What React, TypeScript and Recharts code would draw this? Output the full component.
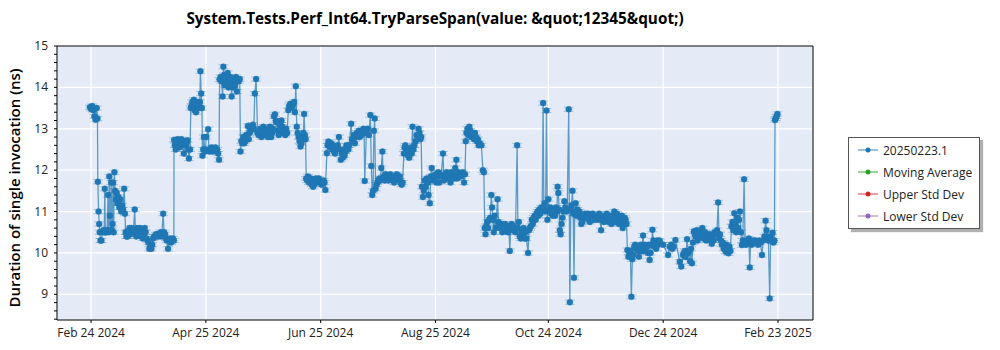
import React from 'react';
import {
  LineChart, Line, XAxis, YAxis, CartesianGrid, Legend, ReferenceLine, ErrorBar
} from 'recharts';

// x = days since Feb 24 2024, y = duration in ns
const febMar: [number, number][] = [
  [-0.6, 13.52], [0, 13.48], [0.6, 13.55], [1.2, 13.45], [1.8, 13.3], [2.4, 13.22], [3, 13.5], [3.4, 13.25],
  [3.6, 11.72], [4, 11.0], [4.3, 10.7], [4.6, 10.5], [5, 10.3], [5.5, 10.3], [6, 10.5], [6.5, 10.55],
  [7, 10.5], [7.3, 11.55], [7.6, 10.5], [8, 10.5], [8.5, 10.55], [9, 11.4], [9.3, 10.5], [9.7, 11.85],
  [10, 10.9], [10.3, 10.55], [10.7, 11.7], [11, 10.55], [11.4, 10.7], [11.7, 11.7], [12, 10.5], [12.4, 11.95],
  [12.8, 11.5], [13.2, 11.3], [13.6, 11.45], [14, 11.2], [14.5, 11.35], [15, 11.1], [15.5, 11.3], [16, 11.0],
  [16.5, 11.15], [17, 11.05], [17.6, 11.55], [18, 10.95], [18.4, 10.5], [18.8, 10.4], [19, 10.5], [19.5, 10.4],
  [20, 10.55], [20.5, 10.6], [21, 10.45], [21.5, 10.6], [22, 10.5], [22.5, 10.55], [23.2, 11.05], [23.6, 10.5],
  [24, 10.4], [24.5, 10.6], [25, 10.45], [25.5, 10.55], [26, 10.6], [26.5, 10.4], [27, 10.5], [27.5, 10.35],
  [28, 10.45], [28.5, 10.6], [29, 10.5], [29.5, 10.35], [30, 10.3], [30.5, 10.25], [31, 10.1], [31.5, 10.15],
  [32, 10.1], [32.5, 10.2], [33, 10.35], [33.5, 10.4], [34, 10.4], [34.5, 10.45], [35, 10.4], [35.5, 10.45],
  [36, 10.4], [36.5, 10.45], [37, 10.5], [37.5, 10.4], [38.3, 10.95], [38.8, 10.5], [39.3, 10.45], [39.8, 10.35],
  [40.2, 10.3], [40.9, 10.1], [41.5, 10.3], [42, 10.35], [42.5, 10.25], [43, 10.3], [43.5, 10.35], [44, 10.3],
];

const aprMay: [number, number][] = [
  [44.1, 12.73], [44.5, 12.6], [45, 12.5], [45.5, 12.65], [46, 12.75], [46.5, 12.7], [47, 12.55], [47.5, 12.65],
  [48, 12.75], [48.5, 12.6], [49.3, 12.4], [49.8, 12.6], [50.3, 12.7], [50.8, 12.65], [51.2, 12.72], [51.6, 12.5],
  [52, 12.28], [52.6, 12.5], [53, 13.5], [53.4, 13.55], [53.8, 13.65], [54.2, 13.6], [54.6, 13.7], [55, 13.45],
  [55.4, 13.6], [55.8, 13.4], [56.2, 13.65], [56.6, 13.55], [57, 13.6], [57.4, 13.5], [57.8, 13.65], [58.1, 14.39],
  [58.5, 13.85], [58.9, 13.5], [59.2, 12.35], [59.6, 12.5], [60, 12.8], [60.4, 12.45], [60.8, 12.5], [61.2, 12.8],
  [62.2, 12.99], [62.6, 12.5], [63, 12.45], [63.5, 12.5], [64, 12.55], [64.5, 12.45], [65, 12.5], [65.5, 12.5],
  [66, 12.55], [66.5, 12.45], [67, 12.5], [67.5, 12.4], [68, 12.25],
  [68.3, 14.19], [68.8, 14.25], [69.3, 14.15], [69.9, 13.78], [70.3, 14.5], [70.7, 14.3], [71.1, 14.05], [71.5, 14.2],
  [72, 14.1], [72.6, 14.35], [73, 14.0], [73.5, 14.1], [74, 14.25], [74.7, 13.78], [75.1, 14.15], [75.5, 14.0],
  [76, 14.2], [76.5, 14.05], [77, 14.25], [77.5, 13.9], [78, 14.2], [78.5, 14.15], [79, 14.2],
];

const mayJun: [number, number][] = [
  [79.4, 12.45], [79.9, 12.7], [80.4, 12.65], [80.9, 12.8], [81.4, 12.65], [81.9, 12.7], [82.4, 12.85], [83.3, 13.07],
  [83.8, 12.75], [84.3, 12.9], [84.8, 12.95], [85.3, 13.05], [86, 13.1], [86.5, 13.0], [87, 13.85], [87.7, 14.2],
  [88.5, 12.9], [89, 12.85], [89.5, 12.95], [90, 13.0], [90.5, 12.8], [91, 12.9], [91.5, 13.05], [92, 12.95],
  [92.5, 12.85], [93, 13.0], [93.5, 12.9], [94, 12.8], [94.5, 12.95], [95, 13.05], [95.7, 12.8], [96.2, 12.9],
  [96.7, 13.0], [97.2, 13.3], [97.7, 13.35], [98.2, 13.2], [98.7, 13.15], [99.2, 12.95], [99.7, 12.85], [100.2, 13.0],
  [100.7, 13.1], [101.2, 13.2], [101.7, 13.05], [102.2, 12.9], [102.7, 12.95], [103.2, 12.85], [103.7, 13.0], [104.2, 12.9],
  [104.8, 13.45], [105.3, 13.55], [105.8, 13.6], [106.3, 13.5], [106.8, 13.55], [107.3, 13.6], [107.8, 13.65], [108.3, 13.4],
  [108.8, 14.03], [109.3, 13.05], [109.8, 12.9], [110.3, 12.8], [110.8, 12.7], [111.3, 12.57], [111.8, 12.65], [112.3, 12.8],
  [112.8, 12.9], [113.2, 13.36], [113.6, 12.85], [114, 12.75],
  [114.3, 11.8], [114.8, 11.75], [115.3, 11.85], [115.8, 11.7], [116.3, 11.75], [116.8, 11.8], [117.3, 11.65], [118, 11.6],
  [118.5, 11.65], [119, 11.75], [119.5, 11.8], [120, 11.7], [120.5, 11.75], [121, 11.8], [121.5, 11.7], [122, 11.75],
  [122.5, 11.65], [123, 11.7], [123.5, 11.75], [124, 11.7], [124.5, 11.52],
];

const julAug: [number, number][] = [
  [125.3, 12.41], [125.7, 12.6], [126.1, 12.69], [126.6, 12.6], [127.1, 12.55], [127.6, 12.65], [128.1, 12.5], [128.6, 12.6],
  [129.1, 12.45], [129.6, 12.4], [130.1, 12.55], [130.6, 12.5], [131.1, 12.6], [131.7, 12.8], [132.2, 12.5], [132.7, 12.25],
  [133.2, 12.4], [133.7, 12.3], [134.2, 12.5], [134.7, 12.35], [135.2, 12.45], [135.7, 12.6], [136.2, 12.55], [136.7, 12.5],
  [137.2, 12.6], [138.2, 13.12], [138.7, 12.75], [139.2, 12.7], [139.7, 12.85], [140.2, 12.65], [140.7, 12.8], [141.2, 12.9],
  [141.7, 12.85], [142.2, 12.95], [142.7, 12.8], [143.2, 12.9], [143.7, 12.85], [144.2, 12.95], [144.7, 13.0], [145.1, 12.9],
  [145.4, 11.74], [146.3, 12.9], [147, 13.0], [147.6, 12.85], [148.4, 13.33], [148.9, 12.1], [149.4, 11.4], [149.8, 11.5],
  [150.3, 12.95], [150.7, 13.25],
  [151.2, 11.55], [151.7, 11.65], [152.2, 11.7], [152.7, 11.75], [153.2, 11.8], [153.7, 11.75], [154.2, 12.05], [154.8, 12.45],
  [155.2, 11.8], [155.5, 11.85], [156, 11.75], [156.5, 11.9], [157, 11.85], [157.5, 11.8], [158, 11.75], [158.5, 11.85],
  [159, 11.9], [159.5, 11.8], [160, 11.85], [160.5, 11.75], [161, 11.7], [161.5, 11.8], [162, 11.85], [162.5, 11.9],
  [163, 11.8], [163.5, 11.75], [164, 11.85], [164.5, 11.7], [165, 11.65], [165.5, 11.7],
  [166.2, 12.4], [166.6, 12.55], [167, 12.6], [167.5, 12.45], [168, 12.5], [168.5, 12.35], [169, 12.3], [169.5, 12.45],
  [170, 12.55], [170.4, 12.4], [170.8, 13.05], [171.3, 12.5], [171.8, 12.6], [172.5, 12.7], [173, 12.85], [173.5, 12.8],
  [174, 13.0], [174.5, 12.9], [175, 12.75], [175.4, 12.8],
  [175.8, 11.6], [176.3, 11.35], [176.8, 11.5], [177.3, 11.75], [177.8, 11.6], [178.3, 11.8], [178.8, 11.7], [179.3, 11.4],
  [180, 11.2], [180.5, 11.85], [181, 12.05], [181.5, 11.75], [182, 11.8],
];

const augSep: [number, number][] = [
  [182.5, 11.85], [183, 11.9], [183.5, 11.7], [184, 11.85], [184.5, 11.95], [185, 11.7], [185.5, 11.9], [186, 11.85],
  [187, 12.4], [187.5, 11.75], [188, 11.9], [188.5, 11.85], [189, 11.95], [189.5, 11.8], [190, 11.9], [190.5, 11.85],
  [191, 11.7], [191.5, 11.95], [192, 11.9], [192.5, 11.85], [193, 11.8], [193.5, 12.05], [194.1, 12.25], [194.5, 11.8],
  [195, 11.95], [195.5, 11.85], [196, 11.9], [196.5, 11.85], [197, 11.9], [197.5, 11.95], [198.2, 11.7], [198.7, 11.9],
  [199.1, 12.7], [199.5, 12.9], [200, 13.0], [200.5, 12.85], [201, 13.05], [201.5, 12.95], [202, 12.8], [202.5, 12.9],
  [203, 12.85], [203.5, 12.75], [204, 12.9], [204.5, 12.8], [205, 12.7], [205.5, 12.75], [206, 12.6], [206.5, 12.65],
  [207.4, 12.6], [208.2, 12.0], [208.7, 11.95],
  [209.2, 10.6], [209.6, 10.45], [210, 10.65], [210.5, 10.75], [211, 10.6], [211.5, 10.8], [212.1, 10.85], [212.7, 11.4],
  [213.1, 11.1], [213.5, 10.8], [214, 10.5], [214.5, 10.9], [215, 10.6], [216, 11.3], [216.5, 10.75], [217, 10.65],
  [217.5, 10.6], [218, 10.7], [218.5, 10.5], [219, 10.65], [219.5, 10.6], [220, 10.7], [220.5, 10.55], [221, 10.6],
  [221.5, 10.5], [222, 10.65], [222.5, 10.05], [223, 10.6], [223.5, 10.7], [224, 10.55], [224.5, 10.65], [225, 10.6],
  [225.5, 10.5], [226.4, 12.6], [226.8, 10.6], [227.3, 10.75], [227.8, 10.4], [228.3, 10.35], [228.8, 10.5], [229.3, 10.45],
  [229.8, 10.6], [230.3, 10.35], [230.8, 10.5], [231.3, 10.35], [232.2, 10.0], [232.7, 10.55], [233.2, 10.6], [233.7, 10.65],
  [234.2, 10.8], [234.7, 10.7], [235.2, 10.85], [235.7, 10.9], [236.2, 10.8], [236.7, 10.95], [237.2, 11.0], [237.7, 10.9],
  [238.2, 11.05], [238.7, 10.95], [239.2, 11.1], [239.7, 11.05],
];

const octNov: [number, number][] = [
  [240.2, 13.62], [240.6, 11.1], [241, 11.2], [241.5, 11.0], [242, 13.44], [242.5, 10.8], [243, 11.3], [243.5, 11.05],
  [244, 11.1], [244.5, 10.95], [245, 11.05], [245.5, 10.9], [246, 11.0], [246.5, 10.9], [247, 11.1], [247.5, 11.0],
  [247.9, 11.6], [248.3, 11.45], [248.7, 11.05], [249.1, 10.55], [249.5, 10.45], [250, 10.7], [250.5, 10.85], [251, 11.0],
  [251.5, 11.25], [252, 11.1], [252.5, 11.0], [253, 11.05], [253.8, 13.47], [254.4, 8.81], [254.9, 11.05], [255.3, 11.15],
  [255.8, 11.5], [256.2, 10.95], [256.6, 9.4], [257, 11.0], [257.5, 11.2], [258, 10.9], [258.5, 11.05], [259, 10.95],
  [259.5, 11.0], [260, 10.85], [260.5, 10.7], [261, 10.75], [261.5, 10.85], [262, 10.9], [262.5, 10.95], [263, 10.85],
  [263.5, 10.9], [264, 10.95], [264.5, 10.8], [265, 10.75], [265.5, 10.9], [266, 10.85], [266.5, 10.95], [267, 10.8],
  [267.5, 10.9], [268, 10.85], [268.5, 10.8], [269, 10.9], [269.5, 10.85], [270, 10.95], [270.5, 10.8], [271, 10.55],
  [271.5, 10.9], [272, 10.85], [272.5, 10.75], [273, 10.9], [273.5, 10.85], [274, 10.95], [274.5, 10.85], [275, 10.75],
  [275.5, 10.8], [276, 10.9], [276.5, 10.7], [277, 10.85], [277.5, 10.9], [278, 11.0], [278.5, 10.75], [279, 10.85],
  [279.5, 10.95], [280, 10.8], [280.5, 10.7], [281, 10.85], [281.5, 10.75], [282, 10.9], [282.5, 10.6], [283, 10.75],
  [283.5, 10.85], [284, 10.8], [284.5, 10.7],
  [285, 10.07], [285.5, 9.91], [286, 10.0], [286.5, 10.05], [287.1, 8.94], [287.6, 9.85], [288.1, 9.95], [288.6, 10.15],
  [289.1, 10.2], [289.6, 10.1], [290.1, 10.15], [290.6, 10.05], [291.1, 9.91], [291.6, 10.1], [292.1, 10.2], [292.6, 10.05],
  [293.3, 10.42], [293.8, 10.05], [294.3, 10.2], [294.8, 10.1], [295.3, 10.15], [295.8, 10.0], [296.3, 10.2], [296.8, 9.83],
  [297.3, 10.0], [297.8, 10.2], [298.3, 10.56], [298.8, 10.3], [299.3, 10.15], [299.8, 10.25], [300.3, 10.1], [300.8, 10.3],
  [301.3, 10.2], [302, 10.3],
];

const decFeb: [number, number][] = [
  [302.2, 10.27], [304, 10.2], [306.6, 9.95], [307.5, 10.15], [308.2, 10.2], [308.8, 10.1], [309.5, 10.15], [310.5, 10.31],
  [312.8, 9.79], [313.6, 9.67], [314.5, 9.95], [315, 10.0], [315.5, 10.05], [316, 9.9], [316.7, 10.33], [317.2, 10.0],
  [317.8, 10.05], [318.3, 9.8], [318.8, 10.1], [319.3, 9.75], [319.8, 10.25], [320.3, 10.52], [320.8, 10.45], [321.3, 10.4],
  [321.8, 10.55], [322.3, 10.3], [322.8, 10.5], [323.3, 10.45], [323.8, 10.4], [324.3, 10.55], [324.8, 10.6], [325.3, 10.35],
  [325.8, 10.45], [326.3, 10.5], [326.8, 10.3], [327.3, 10.45], [327.8, 10.4], [328.3, 10.35], [328.8, 10.45], [329.3, 10.3],
  [329.8, 10.22], [330.3, 10.4], [330.8, 10.3], [331.3, 10.5], [332, 10.45], [332.6, 10.55], [333.2, 11.22], [333.7, 10.35],
  [334.2, 10.45], [334.7, 10.3], [335.2, 10.2], [335.7, 10.25], [336.2, 10.1], [336.7, 10.15], [337.2, 10.03], [337.7, 10.2],
  [338.2, 10.1], [338.7, 9.99], [339.2, 10.15], [339.7, 10.05], [340.3, 10.64], [340.8, 10.75], [341.3, 10.55], [341.8, 10.96],
  [342.3, 10.7], [342.8, 10.5], [343.3, 10.85], [343.8, 10.6], [344.3, 10.8], [344.8, 11.0], [345.3, 10.5], [345.8, 10.19],
  [346.3, 10.3], [347, 11.78], [347.5, 10.25], [348, 10.2], [348.5, 10.3], [349, 10.25], [349.5, 10.35], [350, 9.65],
  [350.5, 10.3], [351, 10.2], [351.5, 10.25], [352, 10.3], [352.5, 10.25], [353, 10.3], [354.4, 10.2], [355, 10.3],
  [355.6, 10.25], [356.5, 9.95], [357.2, 10.3], [357.8, 10.4], [358.4, 10.78], [358.9, 10.55], [359.4, 10.4], [359.9, 10.3],
  [360.6, 8.9], [361.1, 10.4], [361.6, 10.3], [362.1, 10.49], [362.6, 10.25], [363.1, 10.3], [363.4, 13.21], [363.8, 13.25],
  [364.2, 13.3], [364.7, 13.36],
];

const typicalError = 0.05;

const xTickDays = [0, 61, 122, 183, 243, 304, 365];
const xTickLabels = ['Feb 24 2024', 'Apr 25 2024', 'Jun 25 2024', 'Aug 25 2024', 'Oct 24 2024', 'Dec 24 2024', 'Feb 23 2025'];
const xDomain = [-18.1, 383.6];

const yMajorTicks = [9, 10, 11, 12, 13, 14, 15];
const yDomain = [8.38, 15];
const yMinorTicks = Array.from({ length: 34 }, (_, i) => +(8.4 + i * 0.2).toFixed(1));

const legendEntries = [
  { name: '20250223.1', color: '#1f77b4' },
  { name: 'Moving Average', color: '#2ca02c' },
  { name: 'Upper Std Dev', color: '#d62728' },
  { name: 'Lower Std Dev', color: '#9467bd' },
];

const chartTitle = 'System.Tests.Perf_Int64.TryParseSpan(value: &quot;12345&quot;)';
const yLabel = 'Duration of single invocation (ns)';

const FONT = '"Segoe UI", "Open Sans", sans-serif';
const BLUE = '#1f77b4';

const data = [...febMar, ...aprMay, ...mayJun, ...julAug, ...augSep, ...octNov, ...decFeb]
  .map(([day, ns]) => ({ day, ns, err: typicalError }));

const YTick = ({ x, y, payload }: any) => {
  const v = payload.value;
  if (Math.abs(v - Math.round(v)) > 1e-6) return <g />;
  return (
    <text x={x} y={y} dy={4} textAnchor="end" fill="#222" fontSize={12} fontFamily={FONT}>{Math.round(v)}</text>
  );
};

const LegendBox = () => (
  <div style={{
    background: '#fff', border: '1px solid #555', boxShadow: '3px 3px 1px #b0b0b0',
    padding: '1px 10px 1px 9px', width: 111, fontFamily: FONT, fontSize: 12, color: '#222'
  }}>
    {legendEntries.map(e => (
      <div key={e.name} style={{ display: 'flex', alignItems: 'center', height: 22 }}>
        <svg width={20} height={10} style={{ flexShrink: 0 }}>
          <line x1={0} y1={5} x2={20} y2={5} stroke={e.color} strokeOpacity={0.6} strokeWidth={1.5} />
          <circle cx={10} cy={5} r={2.5} fill={e.color} />
        </svg>
        <span style={{ marginLeft: 5, whiteSpace: 'nowrap' }}>{e.name}</span>
      </div>
    ))}
  </div>
);

export default function App() {
  return (
    <div style={{ position: 'absolute', left: 0, top: 0, width: 1000, height: 350, background: '#fff', fontFamily: FONT }}>
      <div style={{
        position: 'absolute', left: 0, width: 870, top: 8, textAlign: 'center',
        fontSize: 15.3, fontWeight: 700, color: '#000'
      }}>{chartTitle}</div>
      <div style={{
        position: 'absolute', left: 14, top: 188, transform: 'translate(-50%, -50%) rotate(-90deg)',
        whiteSpace: 'nowrap', fontSize: 15, fontWeight: 600, color: '#000'
      }}>{yLabel}</div>
      <LineChart width={1000} height={350} data={data} margin={{ top: 46, right: 187, bottom: 0, left: 0 }}>
        <CartesianGrid fill="#e5ebf6" stroke="#ffffff" strokeWidth={1.2}
          horizontalValues={yMajorTicks} verticalValues={xTickDays} />
        <XAxis dataKey="day" type="number" domain={xDomain} allowDataOverflow ticks={xTickDays}
          tickFormatter={(d: number) => xTickLabels[xTickDays.indexOf(d)] ?? ''}
          height={30} tickSize={3} tickMargin={5} interval={0}
          axisLine={{ stroke: '#000' }} tickLine={{ stroke: '#000' }}
          tick={{ fill: '#222', fontSize: 12, fontFamily: FONT }} />
        <YAxis type="number" domain={yDomain} allowDataOverflow ticks={yMinorTicks} interval={0}
          width={57} tickSize={3} tickMargin={6}
          axisLine={{ stroke: '#000' }} tickLine={{ stroke: '#000' }} tick={<YTick />} />
        <ReferenceLine y={yDomain[1]} stroke="#000" strokeWidth={1} />
        <ReferenceLine x={xDomain[1]} stroke="#000" strokeWidth={1} />
        <Legend layout="vertical" align="center" verticalAlign="middle"
          wrapperStyle={{ left: 848, top: 137, width: 'auto' }} content={<LegendBox />} />
        <Line dataKey="ns" name="20250223.1" type="linear" stroke={BLUE} strokeOpacity={0.7} strokeWidth={1.3}
          dot={{ r: 3, fill: BLUE, stroke: BLUE, strokeOpacity: 0.4, strokeWidth: 1 }}
          activeDot={false} isAnimationActive={false}>
          <ErrorBar dataKey="err" direction="y" width={5} stroke={BLUE} strokeOpacity={0.35} strokeWidth={1} isAnimationActive={false} />
        </Line>
      </LineChart>
    </div>
  );
}
